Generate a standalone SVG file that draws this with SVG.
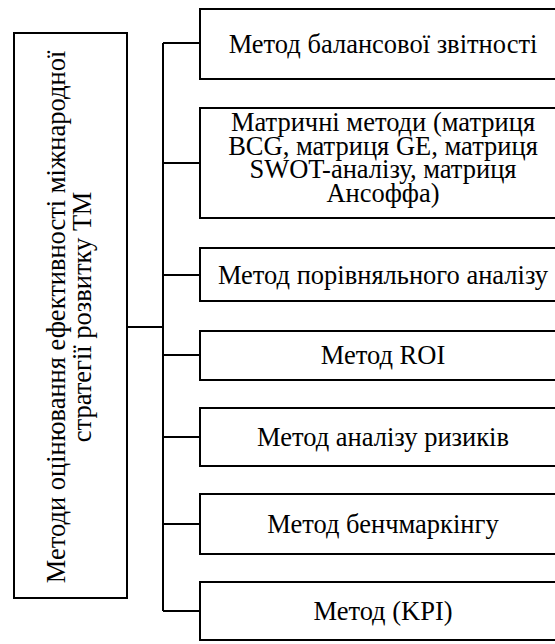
<svg xmlns="http://www.w3.org/2000/svg" width="555" height="644" viewBox="0 0 555 644">
<style>
.box{fill:#fff;stroke:#000;stroke-width:2}
.c{fill:none;stroke:#000;stroke-width:2}
</style>
<rect width="555" height="644" fill="#fff"/>
<g id="connectors">
<path class="c" d="M127 327H163M163 43V611M163 43H200M163 163H200M163 275H200M163 355H200M163 437H200M163 524H200M163 611H200"/>
</g>
<g font-family="'Liberation Serif', 'Times New Roman', serif" font-size="26.5" text-anchor="middle" fill="#000">
<g id="root">
<rect class="box" x="14" y="33" width="113" height="565"/>
<text transform="translate(65 317) rotate(-90)">Методи оцінювання ефективності міжнародної</text>
<text transform="translate(91 317) rotate(-90)">стратегії розвитку ТМ</text>
</g>
<g id="n1"><rect class="box" x="200" y="9" width="360" height="70"/><text x="383" y="53">Метод балансової звітності</text></g>
<g id="n2"><rect class="box" x="200" y="108" width="360" height="110"/>
<text x="383" y="130.5">Матричні методи (матриця</text>
<text x="383" y="154.5">BCG, матриця GE, матриця</text>
<text x="383" y="178">SWOT-аналізу, матриця</text>
<text x="383" y="201.5">Ансоффа)</text></g>
<g id="n3"><rect class="box" x="200" y="248" width="360" height="53"/><text x="383" y="284">Метод порівняльного аналізу</text></g>
<g id="n4"><rect class="box" x="200" y="331" width="360" height="49"/><text x="383" y="364">Метод ROI</text></g>
<g id="n5"><rect class="box" x="200" y="408" width="360" height="58"/><text x="383" y="446">Метод аналізу ризиків</text></g>
<g id="n6"><rect class="box" x="200" y="494" width="360" height="60"/><text x="383" y="533">Метод бенчмаркінгу</text></g>
<g id="n7"><rect class="box" x="200" y="582" width="360" height="58"/><text x="383" y="620">Метод (KPI)</text></g>
</g>
</svg>
